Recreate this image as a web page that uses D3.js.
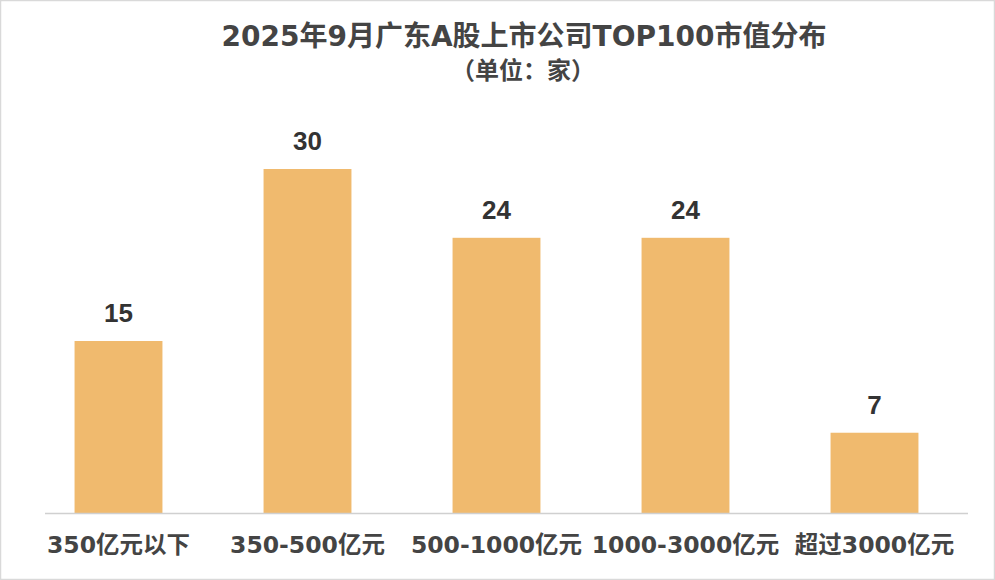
<!DOCTYPE html>
<html><head><meta charset="utf-8">
<script src="https://cdn.jsdelivr.net/npm/d3@7"></script>
<style>
html,body{margin:0;padding:0;background:#fff;}
svg{display:block;font-family:"DejaVu Sans","Noto Sans CJK SC",sans-serif;}
</style></head>
<body>
<svg id="chart" width="995" height="580"></svg>
<script>
const categories = ["350亿元以下","350-500亿元","500-1000亿元","1000-3000亿元","超过3000亿元"];
const values = [15, 30, 24, 24, 7];
const titleText = "2025年9月广东A股上市公司TOP100市值分布";
const subtitleText = "（单位：家）";

const FONT = '"DejaVu Sans","Noto Sans CJK SC",sans-serif';
const NUMFONT = '"Liberation Sans","Noto Sans CJK SC",sans-serif';
const svg = d3.select("#chart");
const W = 995, H = 580;
svg.append("rect").attr("x",0.5).attr("y",0.5).attr("width",W-1).attr("height",H-1)
  .attr("fill","#fff").attr("stroke","#d9d9d9").attr("stroke-width",1.5);

const baseY = 513;
const x = d3.scaleBand().domain(categories).range([24, 969]).paddingInner(0.535).paddingOuter(0.2675);
const y = d3.scaleLinear().domain([0, 30]).range([baseY, 169]);

svg.append("g").selectAll("rect").data(values).join("rect")
  .attr("x",(d,i)=>x(categories[i]))
  .attr("y",d=>y(d))
  .attr("width",x.bandwidth())
  .attr("height",d=>baseY-y(d))
  .attr("fill","#F0BA6E");

svg.append("line").attr("x1",45).attr("x2",968).attr("y1",baseY+0.5).attr("y2",baseY+0.5)
  .attr("stroke","#d0d0d0").attr("stroke-width",1.5);

svg.append("g").selectAll("text").data(values).join("text")
  .attr("x",(d,i)=>x(categories[i])+x.bandwidth()/2)
  .attr("y",d=>y(d)-19)
  .attr("text-anchor","middle")
  .style("font-family",NUMFONT)
  .attr("font-size",26).attr("font-weight","bold").attr("fill","#333")
  .text(d=>d);

const xAxis = d3.axisBottom(x).tickSize(0).tickPadding(0);
const gx = svg.append("g").attr("transform",`translate(0,${baseY})`).call(xAxis);
gx.select(".domain").remove();
gx.selectAll("text").attr("y",40).attr("dy",0)
  .attr("font-size",23.5).attr("font-weight","bold").attr("fill","#444")
  .style("font-family",FONT);

svg.append("text").attr("x",524).attr("y",46).attr("text-anchor","middle")
  .attr("font-size",28).attr("font-weight","bold").attr("fill","#444").text(titleText);
svg.append("text").attr("x",523).attr("y",79).attr("text-anchor","middle")
  .attr("font-size",24).attr("font-weight","bold").attr("fill","#444").text(subtitleText);
</script>
</body></html>
